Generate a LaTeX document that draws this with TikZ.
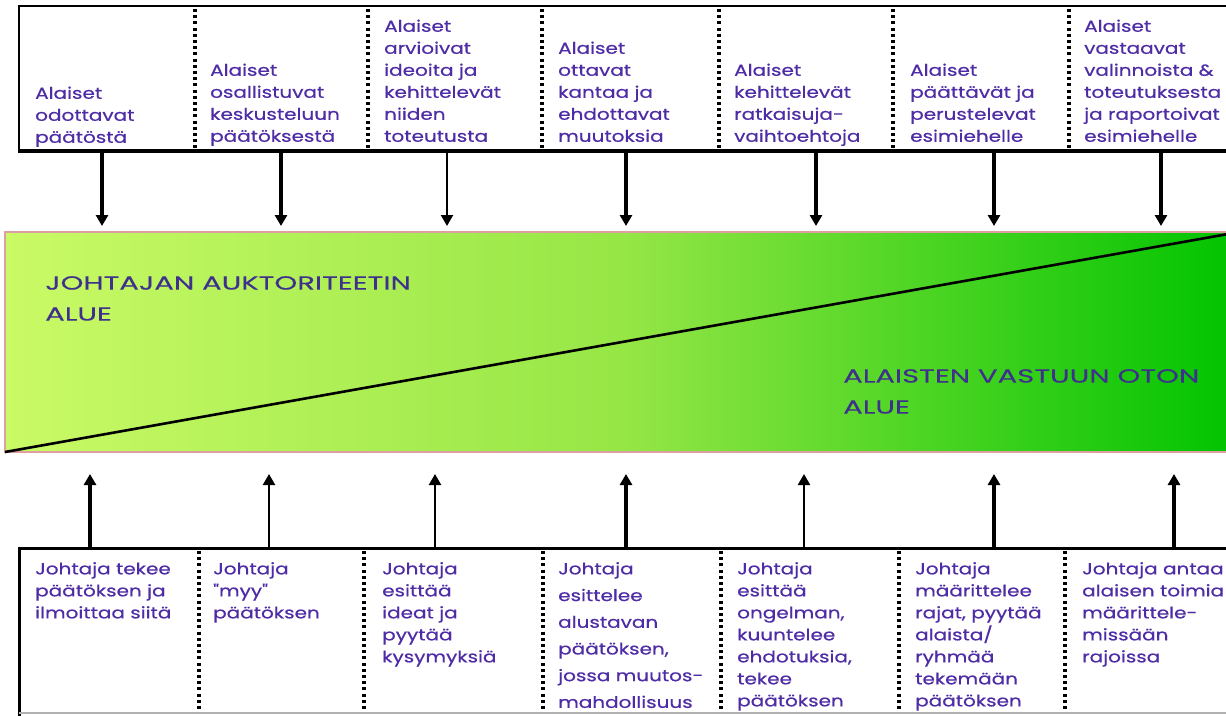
\documentclass[tikz,border=0pt]{standalone}
\usepackage{fontspec}
\setmainfont{Poppins}
\newfontfamily\boxfont{Poppins}[FakeStretch=1.25,FakeBold=0.5]
\newfontfamily\bigfont{Poppins}[FakeStretch=1.53,FakeBold=0.15]
\usetikzlibrary{arrows.meta}
\definecolor{txt}{RGB}{78,44,165}
\definecolor{bigtxt}{RGB}{62,48,140}
\definecolor{bandL}{RGB}{202,250,102}
\definecolor{bandM}{RGB}{150,230,70}
\definecolor{bandR}{RGB}{0,195,0}
\definecolor{pinkb}{RGB}{220,160,160}
\tikzset{
  boxline/.style={draw=black,line width=2.6pt},
  divider/.style={draw=black,line width=3.2pt,dash pattern=on 3pt off 3.2pt},
  arr/.style={draw=black,line width=3.2pt,-{Triangle[width=12pt,length=11pt]}},
  arrthin/.style={draw=black,line width=2.2pt,-{Triangle[width=12pt,length=11pt]}},
  toptext/.style={anchor=south west,align=left,inner sep=0pt,text depth=0pt,text=txt,
    font=\boxfont\fontsize{16}{22}\selectfont},
  bottext/.style={anchor=north west,align=left,inner sep=0pt,text=txt,
    font=\boxfont\fontsize{16}{22}\selectfont},
  bigtext/.style={anchor=north west,align=left,inner sep=0pt,text=bigtxt,
    font=\bigfont\fontsize{19}{31}\selectfont},
}
\begin{document}
\begin{tikzpicture}[x=1pt,y=-1pt]
\useasboundingbox (0,0) rectangle (1226,715);
\fill[white] (0,0) rectangle (1226,715);
% top box
\draw[boxline] (1240,6) -- (19,6) -- (19,151) -- (1240,151);
\draw[black,line width=3.6pt] (18,151) -- (1240,151);
\foreach \x in {195,368,542,719,893,1069} \draw[divider] (\x,9) -- (\x,149);
% bottom box
\draw[black,line width=3pt] (1240,548) -- (19,548) -- (19,720);
\draw[black!30,line width=1.2pt] (19,713) -- (1240,713);
\foreach \x in {199,364,543,721,899,1065} \draw[divider] (\x,551) -- (\x,712);
% band
\shade[left color=bandL,right color=bandR,middle color=bandM] (5,232) rectangle (1240,452);
\draw[pinkb,line width=2.4pt] (1240,232) -- (5,232) -- (5,452) -- (1240,452);
\coordinate (dl) at (5,452);
\coordinate (dr) at (1228,234);
\draw[black,line width=2.6pt] (dl) -- (dr);
% big labels
\node[bigtext] (L1) at (45,276) {JOHTAJAN AUKTORITEETIN\\ALUE};
\node[bigtext] (L2) at (843,369) {ALAISTEN VASTUUN OTON\\ALUE};
% top texts
\node[toptext] (t1) at (35,143) {Alaiset\\odottavat\\päätöstä};
\node[toptext] (t2) at (210,142) {Alaiset\\osallistuvat\\keskusteluun\\päätöksestä};
\node[toptext] (t3) at (384,142) {Alaiset\\arvioivat\\ideoita ja\\kehittelevät\\niiden\\toteutusta};
\node[toptext] (t4) at (558,142) {Alaiset\\ottavat\\kantaa ja\\ehdottavat\\muutoksia};
\node[toptext] (t5) at (734,142) {Alaiset\\kehittelevät\\ratkaisuja-\\vaihtoehtoja};
\node[toptext] (t6) at (910,142) {Alaiset\\päättävät ja\\perustelevat\\esimiehelle};
\node[toptext] (t7) at (1084,142) {Alaiset\\vastaavat\\valinnoista \&\\toteutuksesta\\ja raportoivat\\esimiehelle};
% bottom texts
\node[bottext] (b1) at (35,562) {Johtaja tekee\\päätöksen ja\\ilmoittaa siitä};
\node[bottext] (b2) at (213,562) {Johtaja\\"myy"\\päätöksen};
\node[bottext] (b3) at (382,562) {Johtaja\\esittää\\ideat ja\\pyytää\\kysymyksiä};
\node[bottext,font=\boxfont\fontsize{16}{26.7}\selectfont] (b4) at (558,562) {Johtaja\\esittelee\\alustavan\\päätöksen,\\jossa muutos-\\mahdollisuus};
\node[bottext] (b5) at (737,562) {Johtaja\\esittää\\ongelman,\\kuuntelee\\ehdotuksia,\\tekee\\päätöksen};
\node[bottext] (b6) at (915,562) {Johtaja\\määrittelee\\rajat, pyytää\\alaista/\\ryhmää\\tekemään\\päätöksen};
\node[bottext] (b7) at (1082,562) {Johtaja antaa\\alaisen toimia\\määrittele-\\missään\\rajoissa};
% top arrows
\foreach \i/\x/\s in {1/102/arr,2/281/arr,3/447/arrthin,4/626/arr,5/816/arr,6/994/arr,7/1161/arr}{
  \coordinate (ts\i) at (\x,152);
  \coordinate (te\i) at (\x,226);
  \draw[\s] (ts\i) -- (te\i);
}
% bottom arrows
\foreach \i/\x/\s in {1/90/arr,2/269/arrthin,3/435/arrthin,4/626/arr,5/804/arrthin,6/994/arr,7/1174/arr}{
  \coordinate (bs\i) at (\x,548);
  \coordinate (be\i) at (\x,474);
  \draw[\s] (bs\i) -- (be\i);
}
\end{tikzpicture}
\end{document}
